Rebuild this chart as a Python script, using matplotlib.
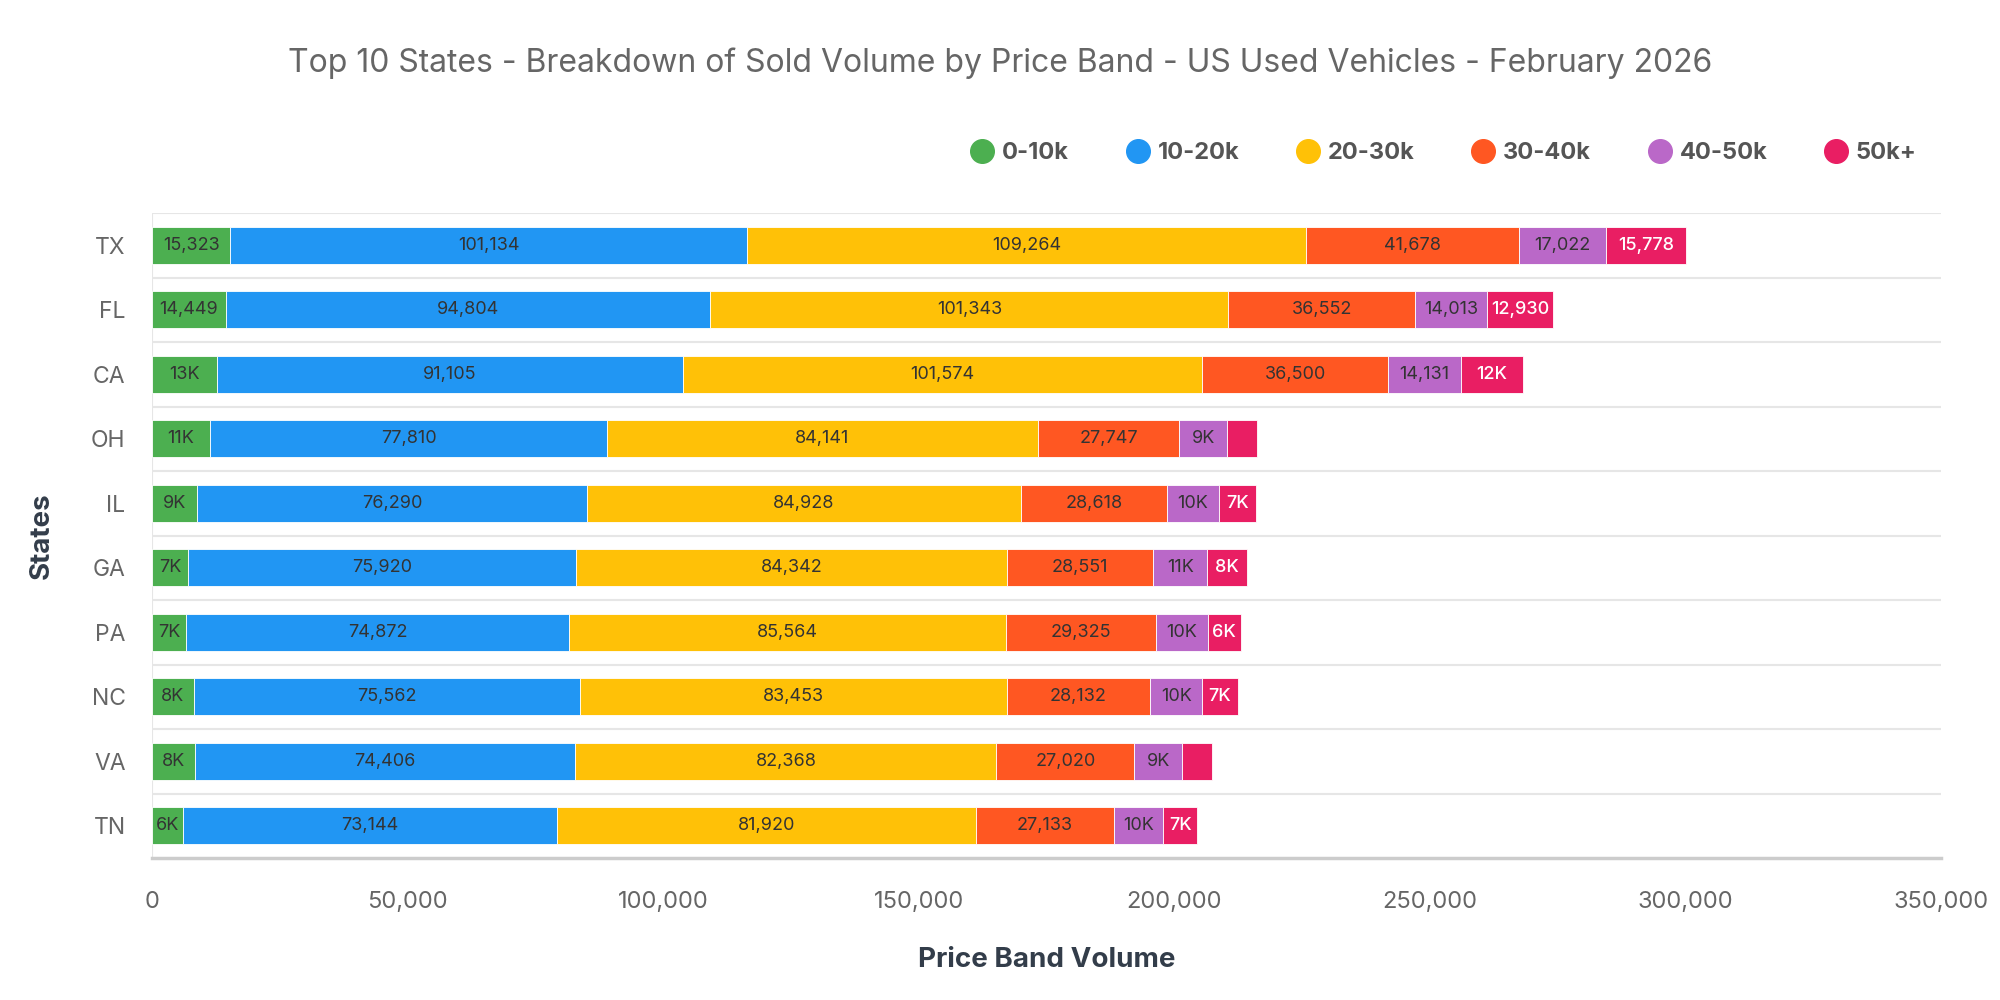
import matplotlib
matplotlib.use("Agg")
import matplotlib.pyplot as plt
from matplotlib.lines import Line2D
import numpy as np

plt.rcParams["font.family"] = ["Inter", "DejaVu Sans"]

# ===== DATA =====
states = ["TX", "FL", "CA", "OH", "IL", "GA", "PA", "NC", "VA", "TN"]
bands = ["0-10k", "10-20k", "20-30k", "30-40k", "40-50k", "50k+"]

band_0_10k = [15323, 14449, 12700, 11300, 8812, 7085, 6720, 8180, 8420, 6050]
band_10_20k = [101134, 94804, 91105, 77810, 76290, 75920, 74872, 75562, 74406, 73144]
band_20_30k = [109264, 101343, 101574, 84141, 84928, 84342, 85564, 83453, 82368, 81920]
band_30_40k = [41678, 36552, 36500, 27747, 28618, 28551, 29325, 28132, 27020, 27133]
band_40_50k = [17022, 14013, 14131, 9350, 10058, 10578, 10073, 10112, 9312, 9620]
band_50k_plus = [15778, 12930, 12270, 5900, 7240, 7768, 6457, 6985, 5950, 6652]

colors = ["#4CAF50", "#2196F3", "#FFC107", "#FF5722", "#BA68C8", "#E91E63"]
x_ticks = [0, 50000, 100000, 150000, 200000, 250000, 300000, 350000]

series = [band_0_10k, band_10_20k, band_20_30k, band_30_40k, band_40_50k, band_50k_plus]


def fmt(v):
    # big segments get the full number, small ones are shortened to K
    if v >= 12900:
        return f"{v:,}"
    return f"{round(v / 1000):.0f}K"


# ===== PLOT =====
fig = plt.figure(figsize=(20, 10), dpi=100)
ax = fig.add_axes([0.076, 0.142, 0.8945, 0.645])

y = np.arange(len(states))
left = np.zeros(len(states))
for vals, col, name in zip(series, colors, bands):
    vals = np.array(vals, dtype=float)
    ax.barh(y, vals, left=left, height=0.58, color=col, edgecolor="white",
            linewidth=0.6, label=name, zorder=3)
    for yi, (l, v) in enumerate(zip(left, vals)):
        if v < 6000:
            continue
        if name == "50k+":
            ax.text(l + v / 2, yi, fmt(int(v)), ha="center", va="center",
                    fontsize=13, color="white", fontweight="medium", zorder=4)
        else:
            ax.text(l + v / 2, yi, fmt(int(v)), ha="center", va="center",
                    fontsize=13, color="#333333", zorder=4)
    left += vals

ax.set_xlim(0, 350000)
ax.set_ylim(len(states) - 0.5, -0.5)

# category boundaries as grid lines
for k in range(len(states)):
    ax.axhline(k - 0.5, color="#e6e6e6", linewidth=1.5, zorder=1)
ax.axvline(0, color="#e6e6e6", linewidth=1.5, zorder=1)

for s in ["top", "right", "left"]:
    ax.spines[s].set_visible(False)
ax.spines["bottom"].set_color("#cccccc")
ax.spines["bottom"].set_linewidth(2.5)

ax.set_xticks(x_ticks)
ax.set_xticklabels([f"{t:,}" for t in x_ticks], fontsize=17, color="#666666")
ax.tick_params(axis="x", length=0, pad=24)
ax.set_yticks(y)
ax.set_yticklabels(states, fontsize=16.5, color="#666666")
ax.tick_params(axis="y", length=0, pad=19)

ax.set_xlabel("Price Band Volume", fontsize=20, fontweight="bold", color="#333d4a", labelpad=24)
ax.set_ylabel("States", fontsize=20, fontweight="bold", color="#333d4a", labelpad=26)

fig.text(0.5, 0.937, "Top 10 States - Breakdown of Sold Volume by Price Band - US Used Vehicles - February 2026",
         ha="center", va="center", fontsize=23, color="#666666")

handles = [Line2D([0], [0], marker="o", linestyle="", markersize=17,
                  markerfacecolor=c, markeredgecolor=c) for c in colors]
fig.legend(handles, bands, loc="center right", bbox_to_anchor=(0.969, 0.847), ncol=6,
           frameon=False, prop={"size": 17, "weight": "bold"}, labelcolor="#555555",
           handletextpad=0.35, columnspacing=2.4, handlelength=1.0)

fig.savefig("out.png", dpi=100)
